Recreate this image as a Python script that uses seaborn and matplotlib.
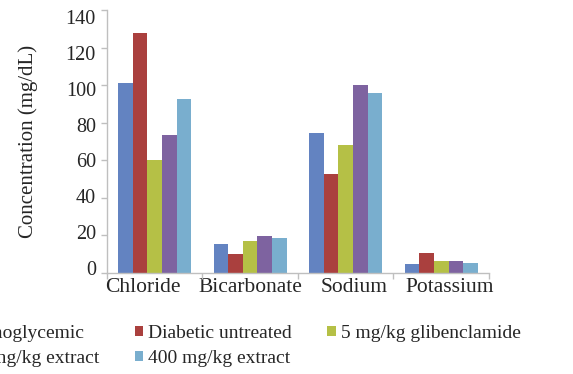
import matplotlib
matplotlib.use("Agg")
import matplotlib.pyplot as plt
from matplotlib.patches import Patch
from matplotlib.transforms import ScaledTranslation
import seaborn as sns
import pandas as pd

# Serum electrolyte levels per treatment group
electrolytes = ["Chloride", "Bicarbonate", "Sodium", "Potassium"]
groups = ["Normoglycemic", "Diabetic untreated", "5 mg/kg glibenclamide",
          "200 mg/kg extract", "400 mg/kg extract"]
normoglycemic = [101, 15.5, 74.5, 4.5]
diabetic_untreated = [128, 10, 52.5, 10.7]
glibenclamide_5 = [60, 16.7, 68, 6.1]
extract_200 = [73.4, 19.6, 100, 6.1]
extract_400 = [92.5, 18.5, 96, 5.3]
yticks = [0, 20, 40, 60, 80, 100, 120, 140]

series = [normoglycemic, diabetic_untreated, glibenclamide_5, extract_200, extract_400]
colors = ["#6383C1", "#AA403E", "#B5C046", "#7E63A0", "#79AECE"]

rows = []
for g, vals in zip(groups, series):
    for e, v in zip(electrolytes, vals):
        rows.append({"Electrolyte": e, "Group": g, "Value": v})
df = pd.DataFrame(rows)

sns.set_style("white")
plt.rcParams["font.family"] = "serif"
plt.rcParams["font.serif"] = ["Liberation Serif", "DejaVu Serif"]

fig = plt.figure(figsize=(5.73, 3.74), dpi=100)
ax = fig.add_axes([0.1867, 0.2709, 0.6667, 0.7018])

sns.barplot(data=df, x="Electrolyte", y="Value", hue="Group",
            hue_order=groups, order=electrolytes, palette=colors,
            width=0.76, saturation=1, errorbar=None, ax=ax,
            edgecolor="none", linewidth=0, legend=False)

ax.set_ylim(0, 140)
ax.set_xlim(-0.5, 3.5)
ax.set_yticks(yticks)
ax.set_yticklabels([str(t) for t in yticks], fontsize=14.5)
ax.set_xticks(range(len(electrolytes)))
ax.set_xticklabels(electrolytes, fontsize=15.5)
ax.set_xticks([i - 0.5 for i in range(len(electrolytes) + 1)], minor=True)
ax.tick_params(axis="x", which="major", length=0, pad=4)
ax.tick_params(axis="x", which="minor", length=4, color="#BFBFBF", width=1,
               direction="out", bottom=True)
ax.tick_params(axis="y", length=4, color="#BFBFBF", width=1, direction="out",
               left=True, pad=4)
ax.set_xlabel("")
ax.set_ylabel("Concentration (mg/dL)", fontsize=15, labelpad=20)

# Category labels spread out so the wide names do not crowd each other
shifts_px = [-12, 0, 8, 8]
for lab, dx in zip(ax.get_xticklabels(), shifts_px):
    lab.set_transform(lab.get_transform() + ScaledTranslation(dx / 100, 0, fig.dpi_scale_trans))
# Value labels sit slightly off their ticks, drifting from top to bottom
for lab, t in zip(ax.get_yticklabels(), yticks):
    dy = 5 - 12 * t / 140
    lab.set_transform(lab.get_transform() + ScaledTranslation(0, dy / 100, fig.dpi_scale_trans))

for side in ["top", "right"]:
    ax.spines[side].set_visible(False)
for side in ["left", "bottom"]:
    ax.spines[side].set_color("#BFBFBF")
    ax.spines[side].set_linewidth(1)

# Legend, filled column by column
legend_order = [0, 3, 1, 4, 2]
handles = [Patch(facecolor=colors[i], edgecolor="none") for i in legend_order]
labels = [groups[i] for i in legend_order]
fig.legend(handles, labels, ncol=3, loc="upper left",
           bbox_to_anchor=(-0.112, 0.152), frameon=False, fontsize=14,
           handlelength=0.45, handleheight=0.45, handletextpad=0.25,
           columnspacing=1.8, labelspacing=0.4, borderaxespad=0)

fig.savefig("out.png", dpi=100)
